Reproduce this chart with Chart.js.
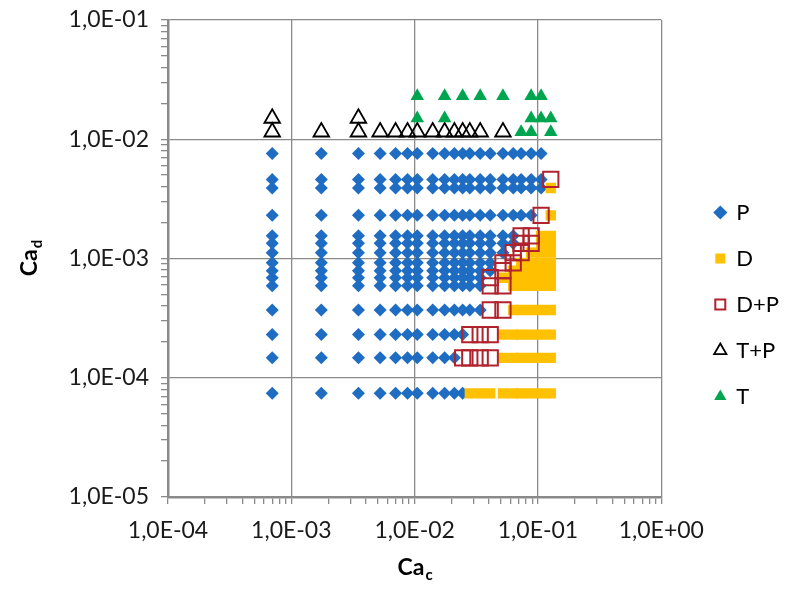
<!DOCTYPE html>
<html>
<head>
<meta charset="utf-8">
<script src="https://cdn.jsdelivr.net/npm/chart.js@4.4.1/dist/chart.umd.min.js"></script>
<style>
  html, body { margin: 0; padding: 0; background: #fff; }
  #chart { display: block; }
</style>
</head>
<body>
<canvas id="chart" width="810" height="589"></canvas>
<script>
const caC = [7.0e-4, 1.75e-3, 3.5e-3, 5.25e-3, 7.0e-3, 8.75e-3, 1.05e-2, 1.4e-2, 1.75e-2, 2.1e-2,
  2.45e-2, 2.8e-2, 3.4e-2, 4.1e-2, 5.2e-2, 6.3e-2, 7.3e-2, 8.8e-2, 1.06e-1, 1.27e-1];

// Ca_d rows, bottom to top
const caD = [7.4e-5, 1.47e-4, 2.3e-4, 3.7e-4, 5.9e-4, 6.9e-4, 7.9e-4, 9.2e-4, 1.12e-3, 1.34e-3,
  1.55e-3, 2.3e-3, 3.9e-3, 4.6e-3, 7.6e-3];

// per row: P runs from column 0 up to pLast, D runs from dFirst to the last column (-1 = none)
const pLast = [10, 9, 10, 12, 12, 12, 13, 13, 14, 15, 15, 17, 18, 18, 18];
const dFirst = [11, 14, 14, 15, 15, 14, 15, 16, 17, 18, 18, 19, 19, -1, -1];
// per row: columns flagged D+P
const dpCols = [[], [10, 11, 12, 13], [11, 12, 13], [13, 14], [13, 14], [13], [14], [14, 15],
  [15, 16], [16, 17], [16, 17], [18], [], [19], []];

// top rows (threading)
const caDTop = [1.15e-2, 1.5e-2, 2.3e-2];
const tpCols = [[0, 1, 2, 3, 4, 5, 6, 7, 8, 9, 10, 11, 12, 14], [0, 2], []];
const tCols = [[16, 17, 19], [6, 8, 17, 18, 19], [6, 8, 10, 12, 14, 17, 18]];

const seriesNames = ['P', 'D', 'D+P', 'T+P', 'T'];
const xDecades = [-4, -3, -2, -1, 0];
const yDecades = [-5, -4, -3, -2, -1];
const xTickLabels = ['1,0E-04', '1,0E-03', '1,0E-02', '1,0E-01', '1,0E+00'];
const yTickLabels = ['1,0E-05', '1,0E-04', '1,0E-03', '1,0E-02', '1,0E-01'];

// turn the row/column reading into point lists
const pPts = [], dPts = [], dpPts = [], tpPts = [], tPts = [];
caD.forEach((y, i) => {
  for (let j = 0; j <= pLast[i]; j++) pPts.push({ x: caC[j], y });
  if (dFirst[i] >= 0) for (let j = dFirst[i]; j < caC.length; j++) dPts.push({ x: caC[j], y });
  dpCols[i].forEach(j => dpPts.push({ x: caC[j], y }));
});
caDTop.forEach((y, i) => {
  tpCols[i].forEach(j => tpPts.push({ x: caC[j], y }));
  tCols[i].forEach(j => tPts.push({ x: caC[j], y }));
});

const isMajor = v => Math.abs(Math.log10(v) - Math.round(Math.log10(v))) < 1e-6;

// 1..9 x 10^n ticks so the minor tick marks line up like excel
function logTicks(decades) {
  const ticks = [];
  decades.forEach((e, i) => {
    const steps = i === decades.length - 1 ? 1 : 9;
    for (let s = 1; s <= steps; s++) ticks.push({ value: s * Math.pow(10, e) });
  });
  return ticks;
}

const axisGray = '#8a8a8a';
const tickFont = { family: 'Lato', size: 23 };

function axisOpts(decades, labels, min, max, pad) {
  return {
    type: 'logarithmic',
    min, max,
    afterBuildTicks: s => { s.ticks = logTicks(decades); },
    ticks: {
      autoSkip: false,
      maxRotation: 0,
      padding: pad,
      color: '#1a1a1a',
      font: tickFont,
      callback: v => isMajor(v) ? labels[decades.indexOf(Math.round(Math.log10(v)))] : ''
    },
    grid: {
      color: c => (c.tick && isMajor(c.tick.value)) ? axisGray : 'rgba(0,0,0,0)',
      tickColor: axisGray,
      lineWidth: 1.3,
      tickLength: 7
    },
    border: { color: axisGray, width: 2.5 }
  };
}

// axis titles need subscripts, chart.js titles can't do that
function drawSubTitle(ctx, main, sub, cx, cy) {
  ctx.font = 'bold 23px Lato';
  const w1 = ctx.measureText(main).width;
  ctx.font = 'bold 15px Lato';
  const w2 = ctx.measureText(sub).width;
  const x0 = cx - (w1 + w2) / 2;
  ctx.textBaseline = 'middle';
  ctx.textAlign = 'left';
  ctx.font = 'bold 23px Lato';
  ctx.fillText(main, x0, cy);
  ctx.font = 'bold 15px Lato';
  ctx.fillText(sub, x0 + w1 + 1, cy + 7);
}

const axisTitles = {
  id: 'axisTitles',
  afterDraw(chart) {
    const { ctx, chartArea } = chart;
    ctx.save();
    ctx.fillStyle = '#000';
    drawSubTitle(ctx, 'Ca', 'c', (chartArea.left + chartArea.right) / 2, 568);
    ctx.translate(30, (chartArea.top + chartArea.bottom) / 2);
    ctx.rotate(-Math.PI / 2);
    drawSubTitle(ctx, 'Ca', 'd', 0, 0);
    ctx.restore();
  }
};

Chart.defaults.font.family = 'Lato';

new Chart(document.getElementById('chart'), {
  type: 'scatter',
  data: {
    datasets: [
      { label: seriesNames[0], data: pPts, order: 5, pointStyle: 'rectRot', pointRadius: 6.5,
        backgroundColor: '#1f6dc2', borderColor: '#1f6dc2', borderWidth: 0 },
      { label: seriesNames[1], data: dPts, order: 4, pointStyle: 'rect', pointRadius: 7.3,
        backgroundColor: '#ffc000', borderColor: '#ffc000', borderWidth: 0 },
      { label: seriesNames[2], data: dpPts, order: 1, pointStyle: 'rect', pointRadius: 10.8,
        backgroundColor: 'rgba(0,0,0,0)', borderColor: '#b0222c', borderWidth: 2 },
      { label: seriesNames[3], data: tpPts, order: 3, pointStyle: 'triangle', pointRadius: 9,
        backgroundColor: 'rgba(0,0,0,0)', borderColor: '#000', borderWidth: 1.8 },
      { label: seriesNames[4], data: tPts, order: 2, pointStyle: 'triangle', pointRadius: 7.8,
        backgroundColor: '#00a550', borderColor: '#00a550', borderWidth: 0 }
    ].map(d => Object.assign(d, { xAxisID: 'x', yAxisID: 'y', pointHoverRadius: d.pointRadius }))
  },
  options: {
    responsive: false,
    animation: false,
    layout: { padding: { top: 20, right: 21, bottom: 0, left: 0 } },
    scales: {
      x: Object.assign(axisOpts(xDecades, xTickLabels, 1e-4, 1, 13), {
        position: 'bottom',
        afterFit: s => { s.height = 92; }
      }),
      y: Object.assign(axisOpts(yDecades, yTickLabels, 1e-5, 1e-1, 12), {
        position: 'left',
        afterFit: s => { s.width = 168; s.paddingTop = 0; s.paddingBottom = 0; }
      }),
      // empty axis, only there to push the legend away from the plot
      spacer: {
        type: 'linear',
        position: 'right',
        grid: { display: false, drawTicks: false },
        ticks: { display: false },
        border: { display: false },
        afterFit: s => { s.width = 30; }
      }
    },
    plugins: {
      legend: {
        position: 'right',
        labels: {
          usePointStyle: true,
          boxWidth: 10,
          boxHeight: 10,
          padding: 24,
          color: '#000',
          font: { family: 'Lato', size: 22 },
          sort: (a, b) => a.datasetIndex - b.datasetIndex
        }
      },
      tooltip: { enabled: false }
    }
  },
  plugins: [axisTitles]
});
</script>
</body>
</html>
